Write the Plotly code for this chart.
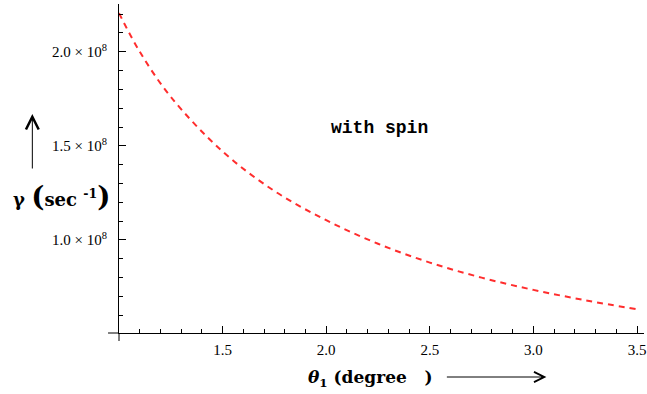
import plotly.graph_objects as go

# data
theta1_deg = [1.0, 1.1, 1.25, 1.5, 1.75, 2.0, 2.25, 2.5, 2.75, 3.0, 3.25, 3.5]
gamma_per_sec = [2.205e8, 2.0e8, 1.76e8, 1.47e8, 1.26e8, 1.105e8, 0.98e8, 0.88e8,
                 0.80e8, 0.735e8, 0.68e8, 0.632e8]

x_tick_vals = [1.5, 2.0, 2.5, 3.0, 3.5]
x_tick_text = ["1.5", "2.0", "2.5", "3.0", "3.5"]
y_tick_vals = [1.0e8, 1.5e8, 2.0e8]
y_tick_text = ["1.0 × 10<sup>8</sup>", "1.5 × 10<sup>8</sup>", "2.0 × 10<sup>8</sup>"]

W, H = 647, 394
ML, MR, MT, MB = 119, 1, 4, 61
PW, PH = W - ML - MR, H - MT - MB

fig = go.Figure()
fig.add_trace(go.Scatter(
    x=theta1_deg, y=gamma_per_sec, mode="lines",
    line=dict(color="rgb(255,45,45)", width=2, dash="6px,5px", shape="spline"),
    showlegend=False, hoverinfo="skip",
))

tickfont = dict(family="Liberation Serif", size=15, color="black")
fig.update_layout(
    width=W, height=H,
    margin=dict(l=ML, r=MR, t=MT, b=MB),
    paper_bgcolor="white", plot_bgcolor="white",
    xaxis=dict(
        range=[1.0, 1.0 + PW / 208.0],
        showline=True, linecolor="black", linewidth=1,
        showgrid=False, zeroline=False,
        tickmode="array", tickvals=x_tick_vals, ticktext=x_tick_text,
        ticks="inside", ticklen=7, tickcolor="black", tickwidth=1,
        minor=dict(dtick=0.1, tick0=1.0, ticks="inside", ticklen=4,
                   tickcolor="black", tickwidth=1, showgrid=False),
        tickfont=tickfont, ticklabelstandoff=3, ticklabeloverflow="allow",
    ),
    yaxis=dict(
        range=[0.506e8, 0.506e8 + PH / 188.3 * 1e8],
        showline=True, linecolor="black", linewidth=1,
        showgrid=False, zeroline=False,
        tickmode="array", tickvals=y_tick_vals, ticktext=y_tick_text,
        ticks="inside", ticklen=7, tickcolor="black", tickwidth=1,
        minor=dict(dtick=1e7, tick0=0, ticks="inside", ticklen=4,
                   tickcolor="black", tickwidth=1, showgrid=False),
        tickfont=tickfont, ticklabelstandoff=8, ticklabeloverflow="allow",
    ),
)

# axis overhang at the origin (Mathematica style)
fig.add_shape(type="line", xref="paper", yref="paper",
              x0=0, x1=0, y0=0, y1=-8 / PH, line=dict(color="black", width=1))
fig.add_shape(type="line", xref="paper", yref="paper",
              x0=-11 / PW, x1=0, y0=0, y1=0, line=dict(color="black", width=1))

def px(xp):
    return (xp - ML) / PW

def py(yp):
    return (H - MB - yp) / PH

# in-plot label
fig.add_annotation(text="<b>with spin</b>", xref="paper", yref="paper",
                   x=px(380), y=py(128), showarrow=False,
                   font=dict(family="Liberation Mono", size=18, color="black"))

# x title
fig.add_annotation(text="<b><i>θ</i><sub>1</sub> (degree\u00a0\u00a0\u00a0)</b>", xref="paper", yref="paper",
                   x=px(307), y=py(392), xanchor="left", showarrow=False,
                   font=dict(family="DejaVu Serif", size=17, color="black"))
fig.add_annotation(text="", xref="paper", yref="paper", axref="pixel", ayref="pixel",
                   x=px(548), y=py(377), ax=447 - 548, ay=0,
                   showarrow=True, arrowhead=5, arrowsize=2, arrowwidth=1, arrowcolor="black")

# y title
fig.add_annotation(text="<b>γ <span style='font-size:28px'>(</span>sec <sup>-1</sup><span style='font-size:28px'>)</span></b>",
                   xref="paper", yref="paper",
                   x=px(11), y=py(197), xanchor="left", showarrow=False,
                   font=dict(family="DejaVu Serif", size=18, color="black"))
fig.add_annotation(text="", xref="paper", yref="paper", axref="pixel", ayref="pixel",
                   x=px(32), y=py(114), ax=0, ay=170 - 114,
                   showarrow=True, arrowhead=5, arrowsize=2.5, arrowwidth=1, arrowcolor="black")

fig.write_html("out.html", config={"displayModeBar": False},
               post_script="document.body.style.margin='0px';document.body.style.overflow='hidden';")
